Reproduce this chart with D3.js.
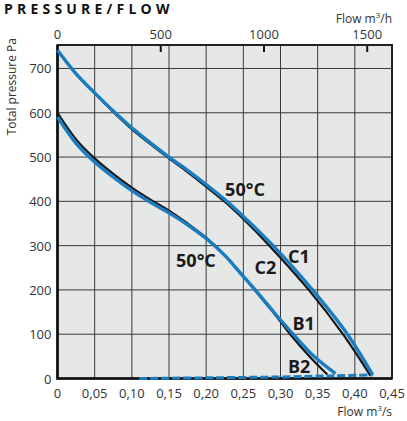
<!DOCTYPE html>
<html>
<head>
<meta charset="utf-8">
<script src="https://cdn.jsdelivr.net/npm/d3@7"></script>
<style>
  body { margin: 0; background: #fff; }
  text { font-family: "Open Sans", sans-serif; }
</style>
</head>
<body>
<svg></svg>
<script>
// flow in m3/s, pressure in Pa
const c1Flow = [0, 0.025, 0.05, 0.075, 0.10, 0.125, 0.15, 0.175, 0.20, 0.225, 0.25, 0.29, 0.343, 0.39, 0.424];
const c1Pres = [741, 688, 645, 604, 566, 532, 500, 470, 438, 404, 366, 300, 200, 100, 8];
const c2Flow = [0, 0.025, 0.05, 0.075, 0.10, 0.125, 0.15, 0.175, 0.20, 0.225, 0.25, 0.285, 0.338, 0.384, 0.421];
const c2Pres = [741, 688, 644, 602, 563, 529, 497, 466, 433, 399, 360, 300, 200, 100, 6];
const b1Flow = [0, 0.025, 0.05, 0.075, 0.10, 0.125, 0.15, 0.175, 0.20, 0.225, 0.246, 0.266, 0.29, 0.317, 0.345, 0.374];
const b1Pres = [590, 531, 489, 455, 424, 398, 374, 347, 316, 278, 238, 200, 152, 100, 50, 11];
const b2Flow = [0, 0.025, 0.05, 0.075, 0.10, 0.125, 0.15, 0.175, 0.20, 0.225, 0.246, 0.265, 0.29, 0.313, 0.34, 0.363];
const b2Pres = [600, 540, 497, 462, 431, 404, 379, 350, 318, 279, 239, 200, 150, 100, 48, 9];
const dashFlow = [0.11, 0.2, 0.3, 0.374, 0.424];
const dashPres = [0, 1.5, 3.5, 6, 8];

const xTicks = [0, 0.05, 0.10, 0.15, 0.20, 0.25, 0.30, 0.35, 0.40, 0.45];
const yTicks = [0, 100, 200, 300, 400, 500, 600, 700];
const topTicks = [0, 500, 1000, 1500];

const size = {w: 407, h: 421};
const m = {t: 45, l: 57.5, r: 15, b: 42.5};
const blue = '#1a7cc1';

const svg = d3.select('svg').attr('width', size.w).attr('height', size.h);

const x = d3.scaleLinear().domain([0, 0.45]).range([m.l, size.w - m.r]);
const xh = d3.scaleLinear().domain([0, 0.45 * 3600]).range([m.l, size.w - m.r]);
const y = d3.scaleLinear().domain([0, 753]).range([size.h - m.b, m.t]);

const zip = (a, b) => a.map((v, i) => [v, b[i]]);

// title
svg.append('text').attr('x', 4).attr('y', 14)
    .attr('font-size', 14).attr('font-weight', 700)
    .attr('letter-spacing', 4.2).attr('fill', '#111')
    .text('PRESSURE/FLOW');

// plot background
svg.append('rect')
    .attr('x', x(0)).attr('y', y(753))
    .attr('width', x(0.45) - x(0)).attr('height', y(0) - y(753))
    .attr('fill', '#e6e7e7');

// grid
const grid = svg.append('g').attr('stroke', '#3a3a3a').attr('stroke-width', 1);
grid.selectAll('.gx').data(xTicks.slice(1, -1)).join('line')
    .attr('x1', d => x(d)).attr('x2', d => x(d))
    .attr('y1', y(0)).attr('y2', y(753));
grid.selectAll('.gy').data(yTicks.slice(1)).join('line')
    .attr('x1', x(0)).attr('x2', x(0.45))
    .attr('y1', d => y(d)).attr('y2', d => y(d));

// top ticks (m3/h)
svg.append('g').attr('stroke', '#111').attr('stroke-width', 2)
    .selectAll('line').data(topTicks.slice(1)).join('line')
    .attr('x1', d => xh(d)).attr('x2', d => xh(d))
    .attr('y1', y(753)).attr('y2', y(753) + 7);

// frame
svg.append('rect')
    .attr('x', x(0)).attr('y', y(753))
    .attr('width', x(0.45) - x(0)).attr('height', y(0) - y(753))
    .attr('fill', 'none').attr('stroke', '#222').attr('stroke-width', 2);
svg.append('path')
    .attr('d', `M${x(0)},${y(753)}V${y(0)}H${x(0.45)}`)
    .attr('fill', 'none').attr('stroke', '#111').attr('stroke-width', 2.6);

// curves, black first so the blue sits on top
const line = d3.line().x(d => x(d[0])).y(d => y(d[1])).curve(d3.curveCatmullRom.alpha(0.5));

const curves = [
    {pts: zip(c2Flow, c2Pres), color: '#151515', w: 2.2},
    {pts: zip(b2Flow, b2Pres), color: '#151515', w: 2.2},
    {pts: zip(c1Flow, c1Pres), color: blue, w: 3.4},
    {pts: zip(b1Flow, b1Pres), color: blue, w: 3.4}
];
svg.append('g').attr('fill', 'none')
    .selectAll('path').data(curves).join('path')
    .attr('d', d => line(d.pts))
    .attr('stroke', d => d.color)
    .attr('stroke-width', d => d.w)
    .attr('stroke-linejoin', 'round');

svg.append('path')
    .attr('d', line(zip(dashFlow, dashPres)))
    .attr('fill', 'none').attr('stroke', blue).attr('stroke-width', 3)
    .attr('stroke-dasharray', '8,3');

// curve labels
const labels = [
    {t: '50°C', f: 0.2255, p: 413},
    {t: '50°C', f: 0.1595, p: 252},
    {t: 'C1', f: 0.310, p: 261},
    {t: 'C2', f: 0.265, p: 237},
    {t: 'B1', f: 0.316, p: 109},
    {t: 'B2', f: 0.310, p: 12}
];
svg.append('g').attr('font-size', 18).attr('font-weight', 700).attr('fill', '#1a1a1a')
    .selectAll('text').data(labels).join('text')
    .attr('x', d => x(d.f)).attr('y', d => y(d.p))
    .text(d => d.t);

// bottom axis labels
svg.append('g').attr('font-size', 13).attr('fill', '#333').attr('text-anchor', 'middle')
    .selectAll('text').data(xTicks).join('text')
    .attr('x', d => x(d)).attr('y', y(0) + 19)
    .text(d => d === 0 ? '0' : d.toFixed(2).replace('.', ','));

// top axis labels
svg.append('g').attr('font-size', 13).attr('fill', '#333').attr('text-anchor', 'middle')
    .selectAll('text').data(topTicks).join('text')
    .attr('x', d => xh(d)).attr('y', 39)
    .text(d => d);

// left axis labels
svg.append('g').attr('font-size', 13).attr('fill', '#333').attr('text-anchor', 'end')
    .selectAll('text').data(yTicks).join('text')
    .attr('x', x(0) - 6).attr('y', d => y(d) + 5)
    .text(d => d);

// axis titles
const t1 = svg.append('text').attr('x', 392).attr('y', 23)
    .attr('font-size', 12).attr('fill', '#333').attr('text-anchor', 'end');
t1.append('tspan').text('Flow m');
t1.append('tspan').attr('font-size', 8).attr('dy', -5).text('3');
t1.append('tspan').attr('dy', 5).text('/h');

const t2 = svg.append('text').attr('x', 392).attr('y', 416)
    .attr('font-size', 12).attr('fill', '#333').attr('text-anchor', 'end');
t2.append('tspan').text('Flow m');
t2.append('tspan').attr('font-size', 8).attr('dy', -5).text('3');
t2.append('tspan').attr('dy', 5).text('/s');

svg.append('text')
    .attr('transform', 'translate(16,38) rotate(-90)')
    .attr('font-size', 12).attr('fill', '#333').attr('text-anchor', 'end')
    .text('Total pressure Pa');
</script>
</body>
</html>
